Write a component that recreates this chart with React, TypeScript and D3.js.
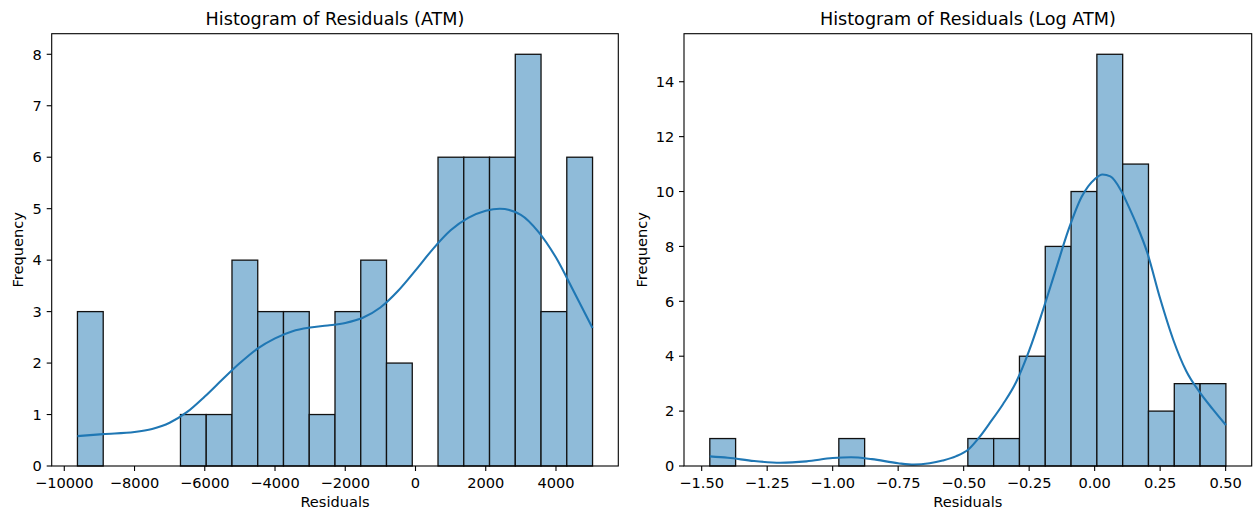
// App.tsx - two residual histograms with KDE overlays

import React from 'react';
import * as d3 from 'd3';

// ---- data ----
const atmCounts = [3, 0, 0, 0, 1, 1, 4, 3, 3, 1, 3, 4, 2, 0, 6, 6, 6, 8, 3, 6];
const atmRange = [-9625, 5041];
const atmTicks = [-10000, -8000, -6000, -4000, -2000, 0, 2000, 4000];
const atmYTicks = [0, 1, 2, 3, 4, 5, 6, 7, 8];
const atmKdeX = [
  -9625, -8900, -8000, -7500, -7000, -6500, -6000, -5500, -5000, -4500, -4000,
  -3500, -3000, -2500, -2000, -1500, -1000, -500, 0, 500, 1000, 1500, 2000,
  2400, 3000, 3500, 4000, 4500, 5041,
];
const atmKdeY = [
  0.58, 0.62, 0.66, 0.72, 0.84, 1.05, 1.35, 1.68, 2.0, 2.28, 2.48, 2.62, 2.69,
  2.73, 2.78, 2.88, 3.08, 3.4, 3.8, 4.22, 4.58, 4.82, 4.96, 5.0, 4.88, 4.55,
  4.05, 3.4, 2.68,
];

const logCounts = [1, 0, 0, 0, 0, 1, 0, 0, 0, 0, 1, 1, 4, 8, 10, 15, 11, 2, 3, 3];
const logRange = [-1.469, 0.501];
const logTicks = [-1.5, -1.25, -1.0, -0.75, -0.5, -0.25, 0.0, 0.25, 0.5];
const logYTicks = [0, 2, 4, 6, 8, 10, 12, 14];
const logKdeX = [
  -1.469, -1.4, -1.3, -1.2, -1.1, -1.0, -0.93, -0.85, -0.75, -0.69, -0.63,
  -0.58, -0.53, -0.48, -0.44, -0.4, -0.35, -0.3, -0.25, -0.2, -0.15, -0.1,
  -0.05, 0.0, 0.03, 0.06, 0.1, 0.13, 0.16, 0.2, 0.25, 0.3, 0.35, 0.4, 0.45,
  0.501,
];
const logKdeY = [
  0.35, 0.3, 0.18, 0.12, 0.17, 0.29, 0.32, 0.25, 0.1, 0.05, 0.1, 0.2, 0.35,
  0.62, 1.05, 1.57, 2.25, 3.05, 4.2, 5.6, 7.1, 8.6, 9.8, 10.45, 10.62, 10.55,
  10.05, 9.45, 8.8, 7.8, 6.1, 4.6, 3.45, 2.7, 2.08, 1.49,
];

const W = 1254;
const H = 510;
const TOP = 33.7;
const BOTTOM = 466;
const FONT = 'DejaVu Sans, sans-serif';
const minus = (s) => s.replace('-', '\u2212');

const Panel = ({ left, right, title, counts, range, xTicks, yTicks, fmt, kdeX, kdeY, yLabelX }) => {
  const n = counts.length;
  const bw = (range[1] - range[0]) / n;
  const pad = (range[1] - range[0]) * 0.05;
  const x = d3.scaleLinear().domain([range[0] - pad, range[1] + pad]).range([left, right]);
  const y = d3
    .scaleLinear()
    .domain([0, d3.max(counts) * 1.05])
    .range([BOTTOM, TOP]);

  const line = d3
    .line()
    .x((d) => x(d[0]))
    .y((d) => y(d[1]))
    .curve(d3.curveMonotoneX);
  const kde = kdeX.map((v, i) => [v, kdeY[i]]);

  return (
    <g>
      {counts.map((c, i) =>
        c > 0 ? (
          <rect
            key={i}
            x={x(range[0] + i * bw)}
            y={y(c)}
            width={x(range[0] + (i + 1) * bw) - x(range[0] + i * bw)}
            height={y(0) - y(c)}
            fill="#8fbbd9"
            stroke="#111"
            strokeWidth={1.3}
          />
        ) : null,
      )}
      <path d={line(kde)} fill="none" stroke="#1f77b4" strokeWidth={2.1} />

      {/* spines */}
      <rect x={left} y={TOP} width={right - left} height={BOTTOM - TOP} fill="none" stroke="#000" strokeWidth={1.1} />

      {/* x axis */}
      {xTicks.map((t) => (
        <g key={t} transform={`translate(${x(t)},${BOTTOM})`}>
          <line y2={5} stroke="#000" strokeWidth={1.1} />
          <text y={21.5} textAnchor="middle" fontSize={14.6} fontFamily={FONT} fill="#000">
            {minus(fmt(t))}
          </text>
        </g>
      ))}
      {/* y axis */}
      {yTicks.map((t) => (
        <g key={t} transform={`translate(${left},${y(t)})`}>
          <line x2={-5} stroke="#000" strokeWidth={1.1} />
          <text x={-9.8} dy="0.36em" textAnchor="end" fontSize={14.6} fontFamily={FONT} fill="#000">
            {t}
          </text>
        </g>
      ))}

      <text x={(left + right) / 2} y={25.4} textAnchor="middle" fontSize={17.6} fontFamily={FONT} fill="#000">
        {title}
      </text>
      <text x={(left + right) / 2} y={507} textAnchor="middle" fontSize={14.6} fontFamily={FONT} fill="#000">
        Residuals
      </text>
      <text
        transform={`translate(${yLabelX},${(TOP + BOTTOM) / 2}) rotate(-90)`}
        textAnchor="middle"
        fontSize={14.6}
        fontFamily={FONT}
        fill="#000"
      >
        Frequency
      </text>
    </g>
  );
};

export default function App() {
  return (
    <svg
      width={W}
      height={H}
      style={{ position: 'absolute', left: 0, top: 0, background: '#fff' }}
    >
      <rect width={W} height={H} fill="#fff" />
      <Panel
        left={51.7}
        right={618.3}
        title="Histogram of Residuals (ATM)"
        counts={atmCounts}
        range={atmRange}
        xTicks={atmTicks}
        yTicks={atmYTicks}
        fmt={(t) => String(t)}
        kdeX={atmKdeX}
        kdeY={atmKdeY}
        yLabelX={22.5}
      />
      <Panel
        left={684}
        right={1251.7}
        title="Histogram of Residuals (Log ATM)"
        counts={logCounts}
        range={logRange}
        xTicks={logTicks}
        yTicks={logYTicks}
        fmt={(t) => t.toFixed(2)}
        kdeX={logKdeX}
        kdeY={logKdeY}
        yLabelX={646.5}
      />
    </svg>
  );
}
